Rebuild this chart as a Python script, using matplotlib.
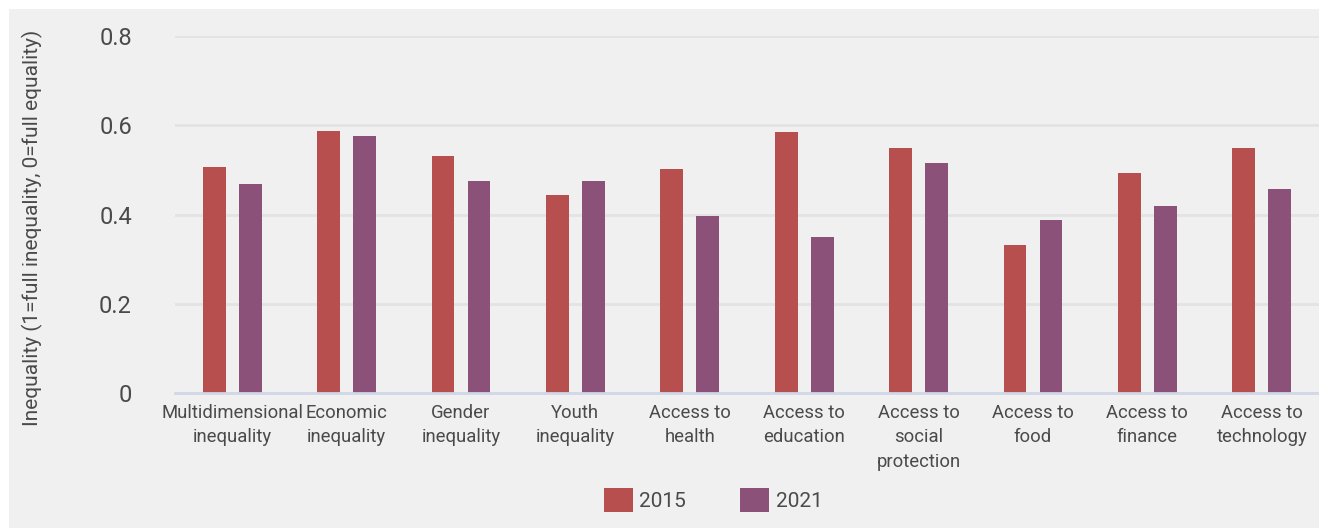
import matplotlib.pyplot as plt
import matplotlib.patches as mpatches
import numpy as np

# Data
categories = [
    "Multidimensional\ninequality",
    "Economic\ninequality",
    "Gender\ninequality",
    "Youth\ninequality",
    "Access to\nhealth",
    "Access to\neducation",
    "Access to\nsocial\nprotection",
    "Access to\nfood",
    "Access to\nfinance",
    "Access to\ntechnology",
]
values_2015 = [0.507, 0.588, 0.532, 0.444, 0.501, 0.584, 0.550, 0.332, 0.492, 0.550]
values_2021 = [0.469, 0.575, 0.474, 0.474, 0.397, 0.350, 0.516, 0.388, 0.420, 0.458]
series_names = ["2015", "2021"]
yticks = [0, 0.2, 0.4, 0.6, 0.8]
ytick_labels = ["0", "0.2", "0.4", "0.6", "0.8"]

RED = "#b84f4f"
PURPLE = "#8b5178"
BG = "#f0f0f0"
TXT = "#4a4a4a"

plt.rcParams['font.family'] = ['Roboto', 'DejaVu Sans']

W, H = 1319, 528
fig = plt.figure(figsize=(W / 100, H / 100), dpi=100)
fig.patch.set_facecolor("white")
# grey panel with a thin white border on the top and left
fig.patches.append(mpatches.Rectangle((9 / W, 0), 1, 1 - 9 / H, transform=fig.transFigure,
                                      facecolor=BG, edgecolor="none", zorder=-5))

ax = fig.add_axes([175 / W, 1 - 393 / H, (W - 175) / W, (393 - 36) / H])
ax.set_facecolor(BG)

x = np.arange(len(categories))
off = 0.157
bw = 0.2
ax.bar(x - off, values_2015, bw, color=RED, label=series_names[0], zorder=3)
ax.bar(x + off, values_2021, bw, color=PURPLE, label=series_names[1], zorder=3)

ax.set_xlim(-0.5, len(categories) - 0.5)
ax.set_ylim(0, 0.8)
ax.set_yticks(yticks)
ax.set_yticklabels(ytick_labels)
ax.set_xticks(x)
ax.set_xticklabels(categories, linespacing=1.45)

ax.grid(axis="y", color="#e3e3e3", linewidth=2, zorder=0)
for s in ["top", "right", "left"]:
    ax.spines[s].set_visible(False)
ax.spines["bottom"].set_color("#d0d7e8")
ax.spines["bottom"].set_linewidth(2)
ax.spines["bottom"].set_zorder(4)

ax.tick_params(axis="y", length=0, pad=31, labelsize=17, labelcolor=TXT)
ax.tick_params(axis="x", length=0, pad=8, labelsize=13.3, labelcolor=TXT)

fig.text(32 / W, 1 - 228 / H, "Inequality (1=full inequality, 0=full equality)",
         rotation=90, ha="center", va="center", fontsize=15, color=TXT)

handles, labels = ax.get_legend_handles_labels()
fig.legend(handles, labels, loc="center", bbox_to_anchor=(713 / W, 1 - 500 / H),
           ncol=2, frameon=False, fontsize=15, handlelength=1.4, handleheight=1.4,
           handletextpad=0.3, columnspacing=2.6, labelcolor=TXT)

fig.savefig("out.png", dpi=100, facecolor=fig.get_facecolor())
